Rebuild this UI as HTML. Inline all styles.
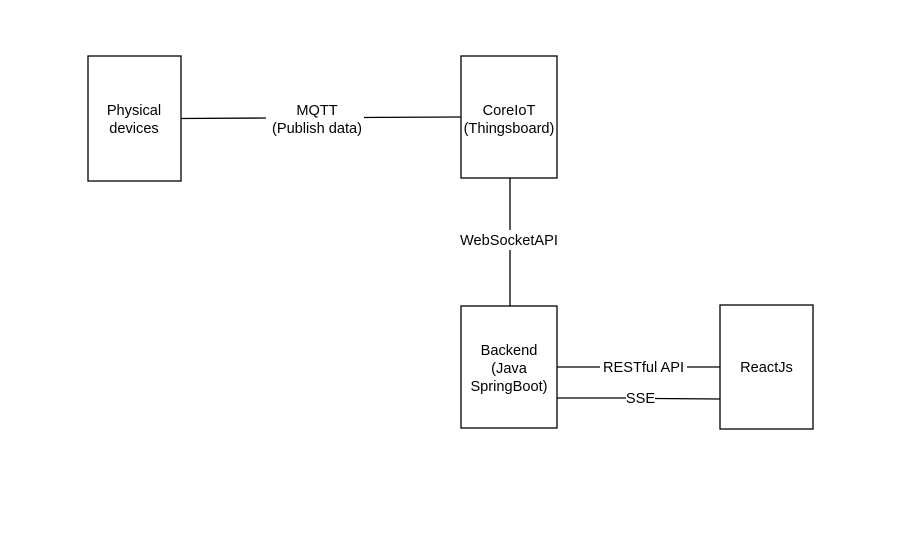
<!DOCTYPE html>
<html><head><meta charset="utf-8"><style>
html,body{margin:0;padding:0;background:#fff;}
svg text{font-family:"Liberation Sans",Arial,sans-serif;font-size:14.6px;fill:#000;}
</style></head><body>
<svg width="923" height="551" viewBox="0 0 923 551" xmlns="http://www.w3.org/2000/svg">
<rect width="923" height="551" fill="#fff"/>
<g fill="none" stroke="#000" stroke-width="1.3">
<rect x="88" y="56" width="93" height="125"/>
<rect x="461" y="56" width="96" height="122"/>
<rect x="461" y="306" width="96" height="122"/>
<rect x="720" y="305" width="93" height="124"/>
<line x1="181" y1="118.5" x2="266" y2="118"/>
<line x1="364" y1="117.5" x2="461" y2="117"/>
<line x1="510" y1="178" x2="510" y2="230"/>
<line x1="510" y1="250" x2="510" y2="306"/>
<line x1="557" y1="367" x2="600" y2="367"/>
<line x1="687" y1="367" x2="720" y2="367"/>
<line x1="557" y1="398" x2="626" y2="398"/>
<line x1="655" y1="398.5" x2="720" y2="399"/>
</g>
<g text-anchor="middle">
<text x="134" y="115">Physical</text>
<text x="134" y="133">devices</text>
<text x="317" y="115">MQTT</text>
<text x="317" y="133">(Publish data)</text>
<text x="509" y="115">CoreIoT</text>
<text x="509" y="133">(Thingsboard)</text>
<text x="509" y="245">WebSocketAPI</text>
<text x="509" y="355">Backend</text>
<text x="509" y="373">(Java</text>
<text x="509" y="391">SpringBoot)</text>
<text x="643.5" y="372">RESTful API</text>
<text x="640.5" y="403">SSE</text>
<text x="766.5" y="372">ReactJs</text>
</g>
</svg>
</body></html>
